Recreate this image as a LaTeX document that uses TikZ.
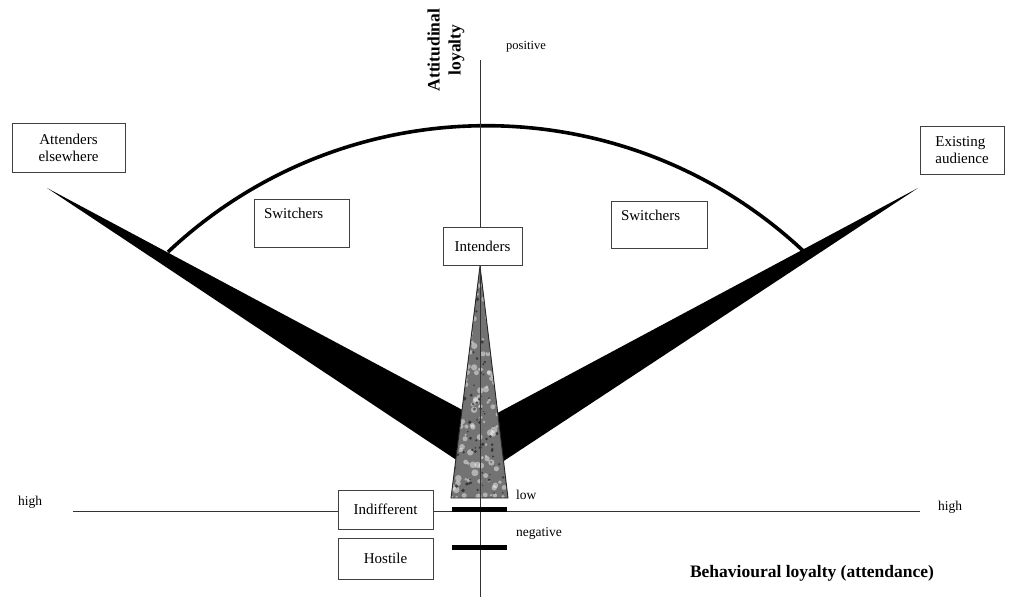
\documentclass[tikz,border=0pt]{standalone}
\usepackage{fontspec}
\setmainfont{Liberation Serif}
\begin{document}
\begin{tikzpicture}[x=1pt,y=1pt,
  box/.style={draw=black!75, line width=0.9pt, fill=white, inner sep=2pt,
    font=\fontsize{15}{17}\selectfont},
  toplabel/.style={box, align=left, inner xsep=10pt, inner ysep=4pt,
    text height=16pt, text depth=24pt},
  small/.style={font=\fontsize{13.5}{15}\selectfont, inner sep=0pt},
  axistitle/.style={font=\bfseries\fontsize{17.5}{21}\selectfont, inner sep=0pt},
  axisline/.style={draw=black!80, line width=0.8pt},
  bar/.style={line width=5pt}]
\useasboundingbox (0,0) rectangle (1009,600);

% key points of the two black wedges and the spire
\coordinate (ltip) at (47,412);
\coordinate (lup)  at (470,186);
\coordinate (llo)  at (470,131);
\coordinate (rtip) at (918,412);
\coordinate (rup)  at (490,183);
\coordinate (rlo)  at (490,130);
\coordinate (apex) at (480,334);
\coordinate (bl)   at (451,102);
\coordinate (br)   at (508,102);

% axes end points
\coordinate (ytop) at (480,540);
\coordinate (ybot) at (480,3);
\coordinate (xl)   at (73,89);
\coordinate (xr)   at (920,89);

% black wedges
\fill[black] (ltip) -- (lup) -- (llo) -- cycle;
\fill[black] (rtip) -- (rup) -- (rlo) -- cycle;

% the arc joining the wedges
\coordinate (arcstart) at (168,348);
\draw[line width=3.6pt] (arcstart) arc[start angle=133.3, end angle=46.6, radius=464];

% mottled grey spire
\fill[black!55] (apex) -- (br) -- (bl) -- cycle;
\begin{scope}
  \clip (apex) -- (br) -- (bl) -- cycle;
  \pgfmathsetseed{11}
  \foreach \i in {1,...,170} {
    \fill[white, opacity=0.45] ({451+57*rnd},{102+232*rnd}) circle[radius={1.2+2.3*rnd}];
  }
  \foreach \i in {1,...,140} {
    \fill[black, opacity=0.5] ({451+57*rnd},{102+232*rnd}) circle[radius={0.6+1.4*rnd}];
  }
\end{scope}
\draw[black!85, line width=0.9pt] (apex) -- (br) -- (bl) -- cycle;

% axes
\draw[axisline] (ytop) -- (ybot);
\draw[axisline] (xl) -- (xr);

% thick bars on the vertical axis
\coordinate (b1l) at (452,91);
\coordinate (b1r) at (507,91);
\coordinate (b2l) at (452,53);
\coordinate (b2r) at (507,53);
\draw[bar] (b1l) -- (b1r);
\draw[bar] (b2l) -- (b2r);

% segment boxes
\node[box, align=center, minimum width=113pt, minimum height=49pt] (attend)
  at (68.5,452.5) {Attenders\\elsewhere};
\node[box, align=left, minimum width=84pt, minimum height=48pt] (exist)
  at (962,450) {Existing\\audience};
\node[toplabel, text width=75pt] (swl) at (301.5,377) {Switchers};
\node[toplabel, text width=76pt, text depth=23pt] (swr) at (659,375.5) {Switchers};
\node[box, minimum width=79pt, minimum height=38pt] (intend) at (482.5,354) {Intenders};
\node[box, minimum width=95pt, minimum height=39pt] (indiff) at (385.5,90.5) {Indifferent};
\node[box, minimum width=95pt, minimum height=41pt] (hostile) at (385.5,41.5) {Hostile};

% axis labels
\node[small] (hl) at (30,98) {high};
\node[small] (hr) at (950,93) {high};
\node[small, anchor=west] (low) at (516,105) {low};
\node[small, anchor=west] (neg) at (516,67) {negative};
\node[small, font=\fontsize{12.5}{14}\selectfont] (pos) at (526,553) {positive};
\node[axistitle, rotate=90, align=center] (att) at (446,550) {Attitudinal\\loyalty};
\node[axistitle] (beh) at (812,27) {Behavioural loyalty (attendance)};
\end{tikzpicture}
\end{document}
